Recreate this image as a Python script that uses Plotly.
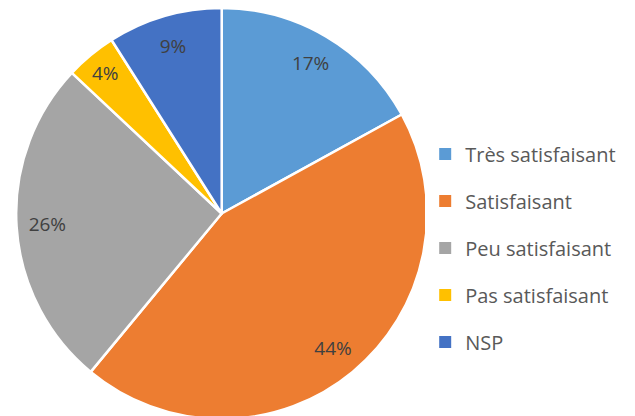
import plotly.graph_objects as go

labels = ["Très satisfaisant", "Satisfaisant", "Peu satisfaisant", "Pas satisfaisant", "NSP"]
values = [17, 44, 26, 4, 9]
colors = ["#5B9BD5", "#ED7D31", "#A5A5A5", "#FFC000", "#4472C4"]

pie_domain = dict(x=[0.011, 0.662], y=[0.012, 1.0])

fig = go.Figure()

# the coloured slices
fig.add_trace(
    go.Pie(
        labels=labels,
        values=values,
        sort=False,
        direction="clockwise",
        rotation=0,
        marker=dict(colors=colors, line=dict(color="white", width=2.5)),
        textinfo="none",
        domain=pie_domain,
        showlegend=False,
        hoverinfo="label+percent",
    )
)

# transparent ring on top, only to place the labels further out
fig.add_trace(
    go.Pie(
        labels=labels,
        values=values,
        sort=False,
        direction="clockwise",
        rotation=0,
        hole=0.7,
        marker=dict(colors=["rgba(0,0,0,0)"]*len(values), line=dict(width=0)),
        texttemplate="%{percent:.0%}",
        textposition="inside",
        insidetextorientation="horizontal",
        textfont=dict(size=19, color="#404040", family="Open Sans"),
        domain=pie_domain,
        showlegend=False,
        hoverinfo="skip",
    )
)

# legend entries as separate groups so spacing can be set
for name, col in zip(labels, colors):
    fig.add_trace(
        go.Scatter(
            x=[None], y=[None],
            mode="markers",
            name=name,
            legendgroup=name,
            marker=dict(symbol="square", size=9, color=col),
        )
    )

fig.update_layout(
    width=635,
    height=416,
    margin=dict(l=0, r=0, t=0, b=0),
    paper_bgcolor="white",
    plot_bgcolor="white",
    xaxis=dict(visible=False),
    yaxis=dict(visible=False),
    legend=dict(
        x=0.657, y=0.423, xanchor="left", yanchor="middle",
        font=dict(size=20, color="#595959", family="Open Sans"),
        tracegroupgap=18,
        itemsizing="constant",
        itemwidth=30,
    ),
)

fig.write_html("out.html")
